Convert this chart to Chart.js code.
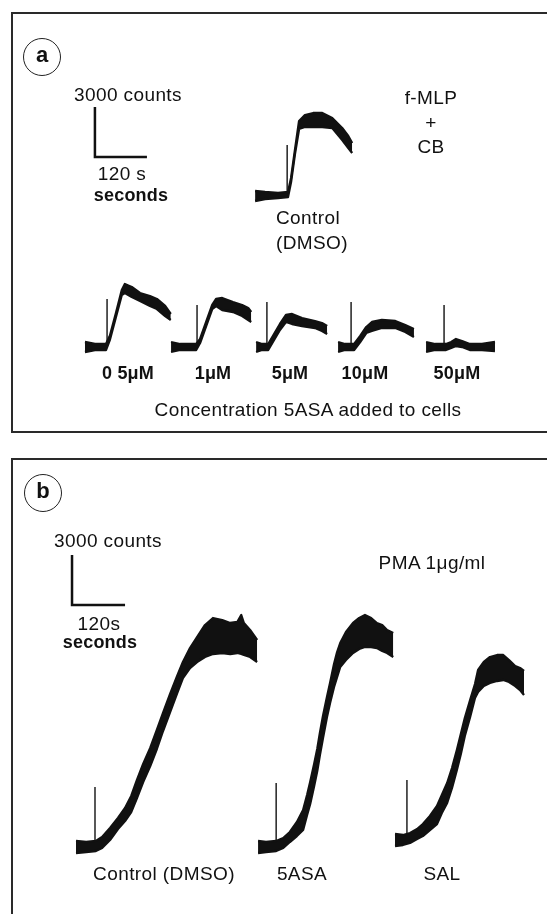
<!DOCTYPE html>
<html>
<head>
<meta charset="utf-8">
<script src="https://cdn.jsdelivr.net/npm/chart.js@4.4.0/dist/chart.umd.min.js"></script>
<style>
  html, body { margin: 0; padding: 0; background: #fff; }
  body { width: 547px; height: 914px; position: relative; overflow: hidden;
         font-family: "Liberation Sans", Arial, sans-serif; color: #111; }
  canvas { position: absolute; left: 0; }
  #chartA { top: 0; }
  #chartB { top: 440px; }
  .box { position: absolute; border: 2px solid #2a2a2a; border-right: none; }
  .txt { position: absolute; font-size: 19px; letter-spacing: 0.4px; white-space: nowrap;
         transform: translate(-50%, -50%); line-height: 1; }
  .left { transform: translate(0, -50%); }
  .bold { font-weight: bold; font-size: 18px; letter-spacing: 0.2px; }
  .circ { position: absolute; width: 36px; height: 36px; border: 1.5px solid #222; border-radius: 50%;
          transform: translate(-50%, -50%); text-align: center; font-weight: bold; font-size: 22px; line-height: 32px; }
</style>
</head>
<body>
<div class="box" style="left:11px; top:12px; width:560px; height:417px;"></div>
<div class="box" style="left:11px; top:458px; width:560px; height:500px; border-bottom:none;"></div>
<canvas id="chartA" width="547" height="440"></canvas>
<canvas id="chartB" width="547" height="474"></canvas>

<div class="circ" style="left:42px; top:57px;">a</div>
<div class="txt left" style="left:74px; top:94px;">3000 counts</div>
<div class="txt" style="left:122px; top:173px;">120 s</div>
<div class="txt bold" style="left:131px; top:195px;">seconds</div>
<div class="txt" style="left:431px; top:97px;">f-MLP</div>
<div class="txt" style="left:431px; top:122px;">+</div>
<div class="txt" style="left:431px; top:146px;">CB</div>
<div class="txt" style="left:308px; top:217px;">Control</div>
<div class="txt" style="left:312px; top:242px;">(DMSO)</div>
<div id="concA"></div>
<div class="txt" style="left:308px; top:409px;">Concentration 5ASA added to cells</div>

<div class="circ" style="left:43px; top:493px;">b</div>
<div class="txt left" style="left:54px; top:540px;">3000 counts</div>
<div class="txt" style="left:99px; top:623px;">120s</div>
<div class="txt bold" style="left:100px; top:642px;">seconds</div>
<div class="txt" style="left:432px; top:562px;">PMA 1μg/ml</div>
<div id="drugB"></div>

<script>
// ---- Panel a: f-MLP + CB, times in s from trace start, counts above baseline ----
const ctrlA_t  = [0, 23, 53, 76, 83, 92, 101.5, 115, 134, 155, 178, 201, 215, 224];
const ctrlA_hi = [300, 240, 180, 240, 1080, 2760, 4500, 4860, 4980, 4980, 4680, 4080, 3600, 3180];
const ctrlA_lo = [-300, -180, -120, -60, 840, 2520, 4020, 4140, 4140, 4140, 4080, 3360, 2880, 2580];

const a05_t  = [0, 23, 48.5, 57.7, 71.5, 85, 92, 108, 127, 150, 166, 185, 198];
const a05_hi = [300, 180, 180, 690, 2040, 3420, 3780, 3600, 3240, 3060, 2880, 2460, 1980];
const a05_lo = [-300, -180, -180, 450, 1800, 3120, 3240, 3000, 2760, 2460, 2280, 1860, 1620];

const a1_t  = [0, 21, 58, 67, 81, 95, 104, 118, 143, 164, 178, 185];
const a1_hi = [300, 180, 180, 480, 1500, 2520, 2880, 2940, 2700, 2520, 2340, 2100];
const a1_lo = [-300, -180, -180, 240, 1260, 2280, 2460, 2220, 2100, 1860, 1620, 1500];

const a5_t  = [0, 14, 28, 41.5, 55, 69, 83, 106, 136, 152, 164];
const a5_hi = [300, 180, 180, 780, 1380, 1920, 1980, 1740, 1560, 1440, 1260];
const a5_lo = [-300, -180, -180, 420, 1020, 1500, 1380, 1260, 1140, 960, 780];

const a10_t  = [0, 16, 37, 51, 65, 78, 101, 132, 155, 175];
const a10_hi = [300, 180, 180, 660, 1200, 1500, 1620, 1560, 1320, 1080];
const a10_lo = [-300, -180, -180, 300, 840, 960, 1140, 1140, 900, 600];

const a50_t  = [0, 21, 46, 58, 69, 83, 101, 129, 159];
const a50_hi = [300, 180, 180, 300, 480, 360, 180, 180, 300];
const a50_lo = [-300, -180, -180, -60, 60, 0, -180, -180, -240];

// stimulus artefact: time and height of each vertical tick
const spikeA_t = [74, 51, 60, 25, 30, 41.5];
const spikeA_c = [3060, 2880, 2520, 2700, 2700, 2520];

const concLabels = ['0 5μM', '1μM', '5μM', '10μM', '50μM'];

// ---- Panel b: PMA 1 ug/ml ----
const ctrlB_t  = [0, 23, 45, 59, 77, 95, 111, 125, 138, 152, 168, 183, 197, 213, 229, 242, 258, 274, 292, 310, 331, 349, 365, 374, 380, 394, 410];
const ctrlB_hi = [360, 300, 360, 600, 1140, 1740, 2340, 3060, 4020, 4980, 5940, 7020, 8040, 9180, 10260, 11100, 11940, 12600, 13320, 13740, 13620, 13440, 13500, 13920, 13440, 13020, 12420];
const ctrlB_lo = [-360, -300, -240, -60, 420, 1080, 1560, 2100, 2940, 3900, 4860, 5880, 6960, 8100, 9240, 10140, 10740, 11100, 11400, 11580, 11640, 11580, 11640, 11580, 11520, 11400, 11100];

const asaB_t  = [0, 18, 41, 57, 72, 88, 102, 111, 118, 127, 134, 140, 147, 156, 163, 172, 179, 186, 199, 215, 229, 242, 256, 269, 281, 292, 306];
const asaB_hi = [360, 300, 360, 540, 900, 1500, 2220, 3120, 3900, 4980, 5880, 6840, 7860, 9000, 9840, 10980, 11700, 12240, 12900, 13440, 13740, 13920, 13740, 13440, 13320, 13020, 12840];
const asaB_lo = [-360, -300, -240, -60, 300, 660, 1020, 1920, 2580, 3660, 4560, 5520, 6540, 7800, 8640, 9600, 10200, 10800, 11220, 11640, 11880, 12000, 12000, 11940, 11760, 11640, 11400];

const salB_t  = [0, 18, 34, 50, 63, 79, 95, 106, 118, 129, 140, 149, 158, 170, 181, 188, 201, 215, 231, 245, 258, 272, 283, 292];
const salB_hi = [360, 300, 420, 660, 960, 1440, 2040, 2700, 3420, 4320, 5400, 6360, 7320, 8400, 9360, 10200, 10680, 10980, 11100, 11100, 10800, 10440, 10320, 10140];
const salB_lo = [-360, -300, -180, 60, 240, 600, 960, 1620, 2220, 3120, 4200, 5160, 6240, 7380, 8520, 8880, 9240, 9420, 9540, 9600, 9480, 9240, 9000, 8700];

const spikeB_t = [43, 41, 27];
const spikeB_c = [3600, 3840, 3600];

const drugLabels = ['Control (DMSO)', '5ASA', 'SAL'];

// scale bars: 3000 counts by 120 s
const barCounts = 3000;
const barSeconds = 120;

// ---- layout ----
const INK = '#111';
const rangeA = { x: [0, 1262], y: [-5580, 20820] };
const rangeB = { x: [0, 1238], y: [-4020, 24420] };
const offsetsA = [[588.5, 9060], [196, 0], [394.6, 0], [590.8, 0], [780, 0], [983, 0]];
const offsetsB = [[172, 0], [584, 0], [894, 420]];
const barOriginA = [219, 11400];
const barOriginB = [163, 14520];
const concPosA = [[128, 373], [213, 373], [290, 373], [365, 373], [457, 373]];
const drugPosB = [[164, 873], [302, 873], [442, 873]];

function traceSets(t, hi, lo, off, spikeT, spikeC) {
  const up = t.map((v, i) => ({ x: off[0] + v, y: off[1] + hi[i] }));
  const dn = t.map((v, i) => ({ x: off[0] + v, y: off[1] + lo[i] }));
  return [
    { data: up, borderColor: INK, borderWidth: 2.3, borderJoinStyle: 'round', fill: false },
    { data: dn, borderColor: INK, borderWidth: 2.3, borderJoinStyle: 'round', backgroundColor: INK, fill: '-1' },
    { data: [{ x: off[0] + spikeT, y: off[1] }, { x: off[0] + spikeT, y: off[1] + spikeC }],
      borderColor: INK, borderWidth: 1.4, fill: false }
  ];
}

function scaleBar(origin) {
  return {
    data: [
      { x: origin[0], y: origin[1] + barCounts },
      { x: origin[0], y: origin[1] },
      { x: origin[0] + barSeconds, y: origin[1] }
    ],
    borderColor: INK, borderWidth: 2.5, fill: false, borderJoinStyle: 'miter'
  };
}

function makeChart(id, range, datasets) {
  const ctx = document.getElementById(id).getContext('2d');
  return new Chart(ctx, {
    type: 'line',
    data: { datasets: datasets },
    options: {
      responsive: false,
      animation: false,
      devicePixelRatio: 1,
      layout: { padding: 0 },
      elements: { point: { radius: 0 }, line: { tension: 0 } },
      plugins: { legend: { display: false }, tooltip: { enabled: false } },
      scales: {
        x: { type: 'linear', display: false, min: range.x[0], max: range.x[1] },
        y: { type: 'linear', display: false, min: range.y[0], max: range.y[1] }
      }
    }
  });
}

const tracesA = [
  [ctrlA_t, ctrlA_hi, ctrlA_lo],
  [a05_t, a05_hi, a05_lo],
  [a1_t, a1_hi, a1_lo],
  [a5_t, a5_hi, a5_lo],
  [a10_t, a10_hi, a10_lo],
  [a50_t, a50_hi, a50_lo]
];
const tracesB = [
  [ctrlB_t, ctrlB_hi, ctrlB_lo],
  [asaB_t, asaB_hi, asaB_lo],
  [salB_t, salB_hi, salB_lo]
];

let setsA = [scaleBar(barOriginA)];
tracesA.forEach((tr, i) => {
  setsA = setsA.concat(traceSets(tr[0], tr[1], tr[2], offsetsA[i], spikeA_t[i], spikeA_c[i]));
});
let setsB = [scaleBar(barOriginB)];
tracesB.forEach((tr, i) => {
  setsB = setsB.concat(traceSets(tr[0], tr[1], tr[2], offsetsB[i], spikeB_t[i], spikeB_c[i]));
});

makeChart('chartA', rangeA, setsA);
makeChart('chartB', rangeB, setsB);

// trace labels
function putLabels(holder, labels, pos, cls) {
  const el = document.getElementById(holder);
  labels.forEach((txt, i) => {
    const d = document.createElement('div');
    d.className = cls;
    d.style.left = pos[i][0] + 'px';
    d.style.top = pos[i][1] + 'px';
    d.textContent = txt;
    el.appendChild(d);
  });
}
putLabels('concA', concLabels, concPosA, 'txt bold');
putLabels('drugB', drugLabels, drugPosB, 'txt');
</script>
</body>
</html>
